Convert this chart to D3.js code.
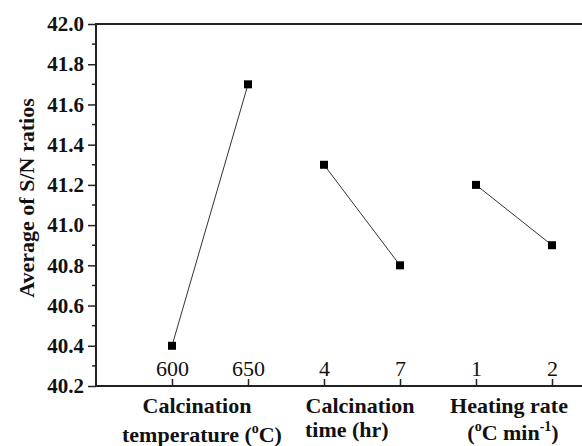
<!DOCTYPE html>
<html>
<head>
<meta charset="utf-8">
<script src="https://cdn.jsdelivr.net/npm/d3@7"></script>
<style>
  body { margin: 0; background: #fff; }
  svg { display: block; }
  svg text { font-family: "Liberation Serif", "Times New Roman", serif; }
</style>
</head>
<body>
<svg width="582" height="446"></svg>
<script>
// factor levels along the x axis
const positions = [1, 2, 3, 4, 5, 6];
const levelLabels = ['600', '650', '4', '7', '1', '2'];
const snMeans = [40.4, 41.7, 41.3, 40.8, 41.2, 40.9];
// which points belong to the same factor
const groups = [[0, 1], [2, 3], [4, 5]];
const yTicks = [40.2, 40.4, 40.6, 40.8, 41.0, 41.2, 41.4, 41.6, 41.8, 42.0];

const svg = d3.select('svg');

const x = d3.scaleLinear().domain([0, 6.5]).range([96, 590]);
const y = d3.scaleLinear().domain([40.2, 42.0]).range([386, 24]);

// frame
svg.append('rect')
  .attr('x', x(0)).attr('y', y(42))
  .attr('width', x(6.5) - x(0)).attr('height', y(40.2) - y(42))
  .attr('fill', 'none').attr('stroke', '#222').attr('stroke-width', 2);

// y axis, major ticks outward with bold labels
const yAxis = svg.append('g')
  .attr('transform', `translate(${x(0)},0)`)
  .call(d3.axisLeft(y).tickValues(yTicks).tickFormat(d3.format('.1f')).tickSize(8).tickPadding(4));
yAxis.attr('font-family', null);
yAxis.select('.domain').remove();
yAxis.selectAll('line').attr('stroke', '#222').attr('stroke-width', 1.5);
yAxis.selectAll('text')
  .attr('font-weight', 'bold').attr('font-size', 21).attr('fill', '#111');

// minor ticks
const minor = d3.range(40.3, 42, 0.2);
svg.append('g').selectAll('line').data(minor).join('line')
  .attr('x1', x(0) - 4).attr('x2', x(0))
  .attr('y1', d => y(d)).attr('y2', d => y(d))
  .attr('stroke', '#222').attr('stroke-width', 1.5);

// x ticks inward, labels inside the plot
const xAxis = svg.append('g')
  .attr('transform', `translate(0,${y(40.2)})`)
  .call(d3.axisTop(x).tickValues(positions).tickFormat((d, i) => levelLabels[i]).tickSize(7).tickPadding(3));
xAxis.attr('font-family', null);
xAxis.select('.domain').remove();
xAxis.selectAll('line').attr('stroke', '#222').attr('stroke-width', 1.5);
xAxis.selectAll('text')
  .attr('font-size', 22).attr('fill', '#111');

// lines between levels
const line = d3.line().x(i => x(positions[i])).y(i => y(snMeans[i]));
svg.append('g').selectAll('path').data(groups).join('path')
  .attr('d', line)
  .attr('fill', 'none').attr('stroke', '#333').attr('stroke-width', 1);

// markers
svg.append('g').selectAll('rect').data(positions).join('rect')
  .attr('x', (d, i) => x(d) - 4).attr('y', (d, i) => y(snMeans[i]) - 4)
  .attr('width', 8).attr('height', 8).attr('fill', '#000');

// y title
svg.append('text')
  .attr('transform', `translate(26,198) rotate(-90)`)
  .attr('text-anchor', 'middle').attr('dominant-baseline', 'central')
  .attr('font-weight', 'bold').attr('font-size', 22).attr('fill', '#111')
  .text('Average of S/N ratios');

// factor titles
function title(xc, yb, parts, anchor) {
  const t = svg.append('text')
    .attr('x', xc).attr('y', yb)
    .attr('text-anchor', anchor || 'middle')
    .attr('font-weight', 'bold').attr('font-size', 22).attr('fill', '#111');
  parts.forEach(p => {
    const s = t.append('tspan').text(p[0]);
    if (p[1] === 'sup') s.attr('dy', -9).attr('font-size', 14);
    if (p[1] === 'base') s.attr('dy', 9);
  });
}
title(197, 413, [['Calcination']]);
title(202, 442, [['temperature ('], ['o', 'sup'], ['C)', 'base']]);
title(360, 413, [['Calcination']]);
title(305, 437, [['time (hr)']], 'start');
title(509, 413, [['Heating rate']]);
title(513, 440, [['('], ['o', 'sup'], ['C min', 'base'], ['-1', 'sup'], [')', 'base']]);
</script>
</body>
</html>
